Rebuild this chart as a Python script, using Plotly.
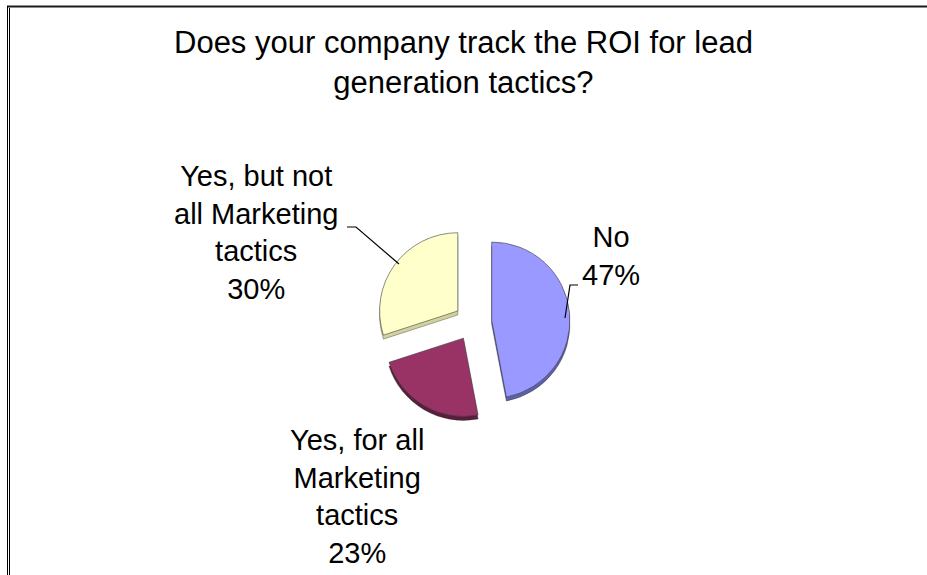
import plotly.graph_objects as go

# Survey answers, in the order the slices are drawn (clockwise from 12 o'clock)
answers = ["No", "Yes, for all Marketing tactics", "Yes, but not all Marketing tactics"]
shares = [47, 23, 30]
label_lines = [["No"], ["Yes, for all", "Marketing", "tactics"], ["Yes, but not", "all Marketing", "tactics"]]
slice_colors = ["#9999FF", "#993366", "#FFFFCC"]
side_colors = ["#5F5FA8", "#5A1E3C", "#D2D29C"]
title_text = "Does your company track the ROI for lead<br>generation tactics?"

W, H = 927, 575
FONT = "Liberation Sans, Arial, sans-serif"


def px(x):
    return x / W


def py(y):
    return 1 - y / H


# pie box in pixels
cx, cy, half = 473, 322, 97
pulls = [0.24, 0.24, 0.24]

fig = go.Figure()

# darker copy slightly lower: the visible rim of the tilted pie
fig.add_trace(go.Pie(
    labels=answers, values=shares, sort=False, direction="clockwise", rotation=0,
    pull=pulls, textinfo="none", hoverinfo="skip", showlegend=False,
    marker=dict(colors=side_colors, line=dict(color="rgba(40,40,40,0.6)", width=0.6)),
    domain=dict(x=[px(cx - half), px(cx + half)], y=[py(cy + 4 + half), py(cy + 4 - half)]),
))

fig.add_trace(go.Pie(
    labels=answers, values=shares, sort=False, direction="clockwise", rotation=0,
    pull=pulls, textinfo="none", showlegend=False,
    marker=dict(colors=slice_colors, line=dict(color="rgba(60,60,60,0.75)", width=0.8)),
    domain=dict(x=[px(cx - half), px(cx + half)], y=[py(cy + half), py(cy - half)]),
))

# category labels with their percentages
label_pos = [(611, 256), (357, 496), (256, 233)]
annotations = []
for lines, val, (lx, ly) in zip(label_lines, shares, label_pos):
    annotations.append(dict(
        text="<br>".join(lines + [f"{val}%"]), x=px(lx), y=py(ly),
        xref="paper", yref="paper", xanchor="center", yanchor="middle",
        showarrow=False, align="center", font=dict(family=FONT, size=29, color="#000000"),
    ))

annotations.append(dict(
    text=title_text, x=px(463), y=py(63), xref="paper", yref="paper",
    xanchor="center", yanchor="middle", showarrow=False, align="center",
    font=dict(family=FONT, size=31, color="#000000"),
))


def seg(points, width=1.2, color="#000000"):
    path = "M " + " L ".join(f"{px(x)},{py(y)}" for x, y in points)
    return dict(type="path", path=path, xref="paper", yref="paper",
                line=dict(color=color, width=width))


shapes = [
    # leader lines
    seg([(565, 318), (570, 285), (578, 285)]),
    seg([(347, 227), (356, 227), (399, 264)]),
    # frame: top rule and double left rule
    seg([(7, 6.5), (927, 6.5)], width=2, color="#1a1a1a"),
    seg([(7.5, 6), (7.5, 575)], width=1, color="#000000"),
    seg([(9.5, 8), (9.5, 575)], width=1, color="#000000"),
]

fig.update_layout(
    width=W, height=H, margin=dict(l=0, r=0, t=0, b=0),
    paper_bgcolor="#FFFFFF", plot_bgcolor="#FFFFFF",
    annotations=annotations, shapes=shapes, showlegend=False,
)

fig.write_html("out.html")
